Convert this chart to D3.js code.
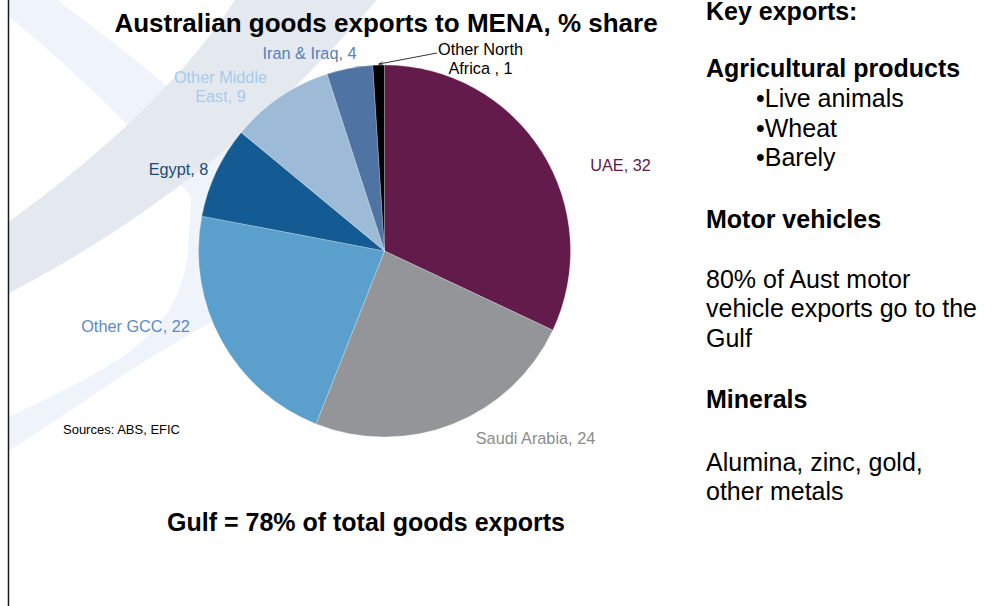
<!DOCTYPE html>
<html>
<head>
<meta charset="utf-8">
<script src="https://cdn.jsdelivr.net/npm/d3@7/dist/d3.min.js"></script>
<style>
  html, body { margin: 0; padding: 0; background: #ffffff; }
  svg { display: block; font-family: "Liberation Sans", Arial, Helvetica, sans-serif; }
</style>
</head>
<body>
<svg id="chart" width="1004" height="606"></svg>
<script>
// Share of Australian goods exports to MENA, by destination (%)
const categories = ["UAE", "Saudi Arabia", "Other GCC", "Egypt", "Other Middle East", "Iran & Iraq", "Other North Africa"];
const shares = [32, 24, 22, 8, 9, 4, 1];
// Label name lines; the value is appended to the last line
const labelNames = [["UAE"], ["Saudi Arabia"], ["Other GCC"], ["Egypt"], ["Other Middle", "East"], ["Iran & Iraq"], ["Other North", "Africa "]];

const sliceColors = ["#621b4b", "#939598", "#5b9fcd", "#135b92", "#9dbad6", "#4f74a3", "#000000"];
const labelColors = ["#62194b", "#8c8c8c", "#5b8ac6", "#1d4c70", "#a8cbec", "#5a80b8", "#000000"];
// Label anchors as offsets from the pie centre (x, first baseline)
const labelOffsets = [[236, -80], [151, 193], [-249, 81], [-206, -76], [-164, -168], [-75, -192], [96, -196]];

const svg = d3.select("#chart");
const W = 1004, H = 606;

// ---- decorative background swooshes ----
svg.append("defs").append("clipPath").attr("id", "panel")
  .append("rect").attr("x", 9).attr("y", 0).attr("width", W - 9).attr("height", H);
const deco = svg.append("g").attr("clip-path", "url(#panel)");
deco.append("path")
  .attr("d", "M0,9 Q130,115 205,215 L255,165 Q160,75 57,0 L0,0 Z")
  .attr("fill", "#eef4fa");
deco.append("path")
  .attr("d", "M0,421 C120,365 180,335 188,250 L192,180 L262,180 L262,300 C180,330 90,400 0,457 Z")
  .attr("fill", "#eef4fa");
deco.append("path")
  .attr("d", "M235,0 C190,70 110,150 0,228 L0,298 C200,195 310,75 377,0 Z")
  .attr("fill", "#e3e9ef");

// left frame line
svg.append("line").attr("x1", 8.5).attr("x2", 8.5).attr("y1", 0).attr("y2", H)
  .attr("stroke", "#1a1a1a").attr("stroke-width", 1.5);

// ---- pie ----
const cx = 384.5, cy = 251, R = 186;
const pie = d3.pie().sort(null).value(d => d);
const arcs = pie(shares);
const arc = d3.arc().innerRadius(0).outerRadius(R);

const g = svg.append("g").attr("transform", `translate(${cx},${cy})`);
g.selectAll("path.slice").data(arcs).join("path")
  .attr("class", "slice")
  .attr("d", arc)
  .attr("fill", (d, i) => sliceColors[i])
  .attr("stroke", "#ffffff").attr("stroke-width", 0.4).attr("stroke-opacity", 0.6);

// ---- title ----
svg.append("text").attr("x", 386).attr("y", 32).attr("text-anchor", "middle")
  .attr("font-size", 26).attr("font-weight", "bold").attr("fill", "#000")
  .text("Australian goods exports to MENA, % share");

// ---- slice labels ----
const lbl = svg.append("g").attr("font-size", 16.3);
arcs.forEach((d, i) => {
  const lines = labelNames[i].slice();
  lines[lines.length - 1] = lines[lines.length - 1] + ", " + shares[i];
  const t = lbl.append("text")
    .attr("x", cx + labelOffsets[i][0]).attr("y", cy + labelOffsets[i][1])
    .attr("text-anchor", "middle").attr("fill", labelColors[i]);
  lines.forEach((s, k) => {
    t.append("tspan").attr("x", cx + labelOffsets[i][0]).attr("dy", k === 0 ? 0 : 19).text(s);
  });
});

// leader line for the smallest slice
const last = arcs[arcs.length - 1];
const tip = d3.arc().innerRadius(R + 1).outerRadius(R + 1).centroid(last);
svg.append("defs").append("marker").attr("id", "arrow")
  .attr("viewBox", "0 0 10 10").attr("refX", 9).attr("refY", 5)
  .attr("markerWidth", 6).attr("markerHeight", 6).attr("orient", "auto")
  .append("path").attr("d", "M0,1.5 L9,5 L0,8.5").attr("fill", "none").attr("stroke", "#000").attr("stroke-width", 1.2);
svg.append("line")
  .attr("x1", 437).attr("y1", 53)
  .attr("x2", cx + tip[0]).attr("y2", cy + tip[1])
  .attr("stroke", "#000").attr("stroke-width", 0.8)
  .attr("marker-end", "url(#arrow)");

// source note
svg.append("text").attr("x", 63).attr("y", 434)
  .attr("font-size", 13.5).attr("fill", "#000")
  .attr("textLength", 117).attr("lengthAdjust", "spacingAndGlyphs")
  .text("Sources: ABS, EFIC");

// headline under the pie
svg.append("text").attr("x", 366).attr("y", 531).attr("text-anchor", "middle")
  .attr("font-size", 25).attr("font-weight", "bold").attr("fill", "#000")
  .text("Gulf = 78% of total goods exports");

// ---- side notes ----
const notes = [
  { t: "Key exports:", y: 20, b: true, x: 706 },
  { t: "Agricultural products", y: 77, b: true, x: 706 },
  { t: "\u2022Live animals", y: 107, b: false, x: 756 },
  { t: "\u2022Wheat", y: 137, b: false, x: 756 },
  { t: "\u2022Barely", y: 166, b: false, x: 756 },
  { t: "Motor vehicles", y: 228, b: true, x: 706 },
  { t: "80% of Aust motor", y: 288, b: false, x: 706 },
  { t: "vehicle exports go to the", y: 317, b: false, x: 706 },
  { t: "Gulf", y: 347, b: false, x: 706 },
  { t: "Minerals", y: 408, b: true, x: 706 },
  { t: "Alumina, zinc, gold,", y: 471, b: false, x: 706 },
  { t: "other metals", y: 500, b: false, x: 706 }
];
svg.append("g").attr("font-size", 25).attr("fill", "#000")
  .selectAll("text").data(notes).join("text")
  .attr("x", d => d.x).attr("y", d => d.y)
  .attr("font-weight", d => d.b ? "bold" : "normal")
  .text(d => d.t);
</script>
</body>
</html>
